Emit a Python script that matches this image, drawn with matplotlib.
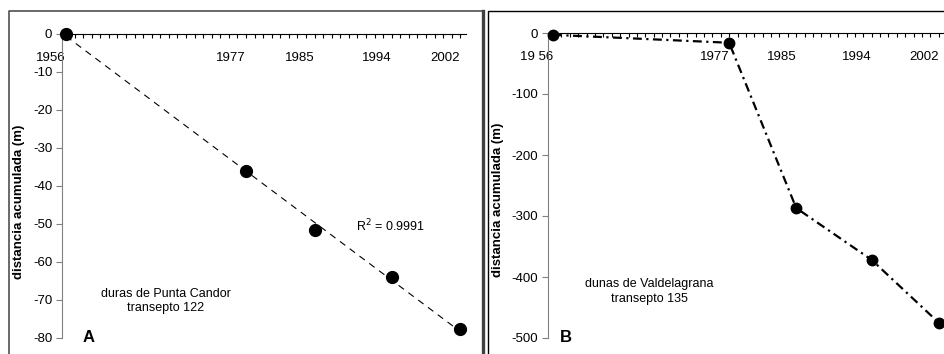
import numpy as np
import matplotlib.pyplot as plt
from matplotlib.lines import Line2D

plt.rcParams['font.family'] = ['Liberation Sans', 'DejaVu Sans']

# datos
anios = [1956, 1977, 1985, 1994, 2002]
etiquetas = ['1956', '1977', '1985', '1994', '2002']
etiquetas_b = ['19 56', '1977', '1985', '1994', '2002']
dist_a = [0, -36, -51.6, -64, -77.7]
dist_b = [-3, -16, -287, -372, -475]

W, H = 945, 354
fig = plt.figure(figsize=(W / 100, H / 100), dpi=100)


def caja(x0, x1, y0, y1):
    # caja en pixeles -> fracciones de figura
    return [x0 / W, 1 - y1 / H, (x1 - x0) / W, (y1 - y0) / H]


def linea(xs, ys, **kw):
    fig.add_artist(Line2D([x / W for x in xs], [1 - y / H for y in ys], **kw))


# marcos de los paneles
linea([9, 9, 483, 483], [360, 11, 11, 360], color='#505050', lw=1.2)
linea([483, 483], [11, 360], color='#404040', lw=2.4)
linea([488, 488, 950], [360, 11, 11], color='black', lw=1.0)


def panel(pos, xlim, ylim, yticks, etiq):
    ax = fig.add_axes(pos)
    ax.set_xlim(*xlim)
    ax.set_ylim(*ylim)
    ax.patch.set_visible(False)
    for s in ['top', 'right']:
        ax.spines[s].set_visible(False)
    ax.spines['bottom'].set_position(('data', 0))
    ax.spines['bottom'].set_color('black')
    ax.spines['left'].set_color('#808080')
    ax.set_xticks(anios)
    ax.set_xticklabels(etiq, fontsize=9.5, ha='right')
    ax.set_xticks(np.arange(1956, int(xlim[1]) + 1), minor=True)
    ax.tick_params(axis='x', which='both', direction='out', length=3,
                   width=0.8, color='black', pad=10)
    ax.set_yticks(yticks)
    ax.set_yticklabels([str(v) for v in yticks], fontsize=9.5)
    ax.tick_params(axis='y', direction='out', length=4, color='#808080', pad=3)
    return ax


# Panel A
axA = panel(caja(62, 466, 34, 338), (1955.53, 2002.67), (-80, 0),
            list(range(0, -81, -10)), etiquetas)
m, b = np.polyfit(anios, dist_a, 1)
xs = np.array([anios[0], anios[-1]])
axA.plot(xs, m * xs + b, color='black', lw=0.8, ls=(0, (6, 5)))
axA.plot(anios, dist_a, 'o', color='black', ms=8.5, clip_on=False, zorder=5)
axA.text(1997.9, -50.5, 'R$^2$ = 0.9991', fontsize=9, ha='right', va='center')
axA.text(1967.6, -70.3, 'duras de Punta Candor\ntransepto 122', fontsize=9,
         ha='center', va='center', linespacing=1.3)
axA.text(1958.6, -80, 'A', fontsize=12, fontweight='bold', ha='center',
         va='center')
fig.text(19 / W, 1 - 202 / H, 'distancia acumulada (m)', rotation=90,
         fontsize=9.5, fontweight='bold', ha='center', va='center')

# Panel B
axB = panel(caja(548, 943, 33, 338), (1955.4, 2002.5), (-500, 0),
            list(range(0, -501, -100)), etiquetas_b)
axB.plot(anios, dist_b, color='black', lw=1.6, ls=(0, (4, 2, 1, 2)))
axB.plot(anios, dist_b, 'o', color='black', ms=7.5, clip_on=False, zorder=5)
axB.text(1967.5, -424, 'dunas de Valdelagrana\ntransepto 135', fontsize=9,
         ha='center', va='center', linespacing=1.3)
axB.text(1957.5, -500, 'B', fontsize=12, fontweight='bold', ha='center',
         va='center')
fig.text(498 / W, 1 - 200 / H, 'distancia acumulada (m)', rotation=90,
         fontsize=9.5, fontweight='bold', ha='center', va='center')

fig.savefig('out.png', dpi=100)
